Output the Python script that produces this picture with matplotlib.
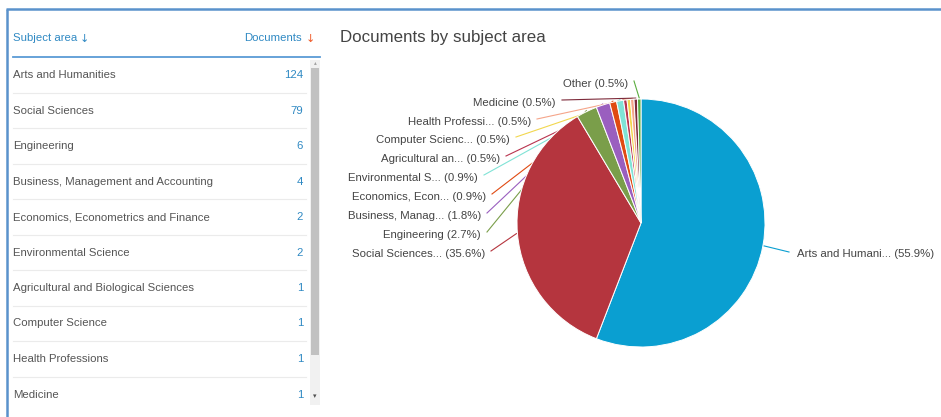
import numpy as np
import matplotlib
matplotlib.use('Agg')
import matplotlib.pyplot as plt

plt.rcParams['font.family'] = ['Liberation Sans', 'DejaVu Sans']

# ── data ────────────────────────────────────────────────────────────
subjects = ['Arts and Humanities', 'Social Sciences', 'Engineering',
            'Business, Management and Accounting',
            'Economics, Econometrics and Finance', 'Environmental Science',
            'Agricultural and Biological Sciences', 'Computer Science',
            'Health Professions', 'Medicine']
documents = [124, 79, 6, 4, 2, 2, 1, 1, 1, 1]
other_docs = 1

pie_labels = ['Arts and Humani...', 'Social Sciences...', 'Engineering',
              'Business, Manag...', 'Economics, Econ...', 'Environmental S...',
              'Agricultural an...', 'Computer Scienc...', 'Health Professi...',
              'Medicine', 'Other']
pie_values = documents + [other_docs]

# ── palette ─────────────────────────────────────────────────────────
BLUE_TXT = '#2f89c3'
GRAY_TXT = '#555555'
slice_colors = ['#0a9fd1', '#b5353e', '#7a9e4a', '#9a5fbf', '#e04a12',
                '#80e3d6', '#b8344f', '#f2d74e', '#f5a58a', '#7d2a3a',
                '#5aad3f']

FS_TAB = 8.2
FS_LAB = 8.2

W, H = 941, 417
fig = plt.figure(figsize=(W / 100, H / 100), dpi=100)
fig.patch.set_facecolor('white')

# pixel axes for the table (y down)
ax = fig.add_axes([0, 0, 1, 1])
ax.set_xlim(0, W)
ax.set_ylim(H, 0)
ax.axis('off')

# outer frame (top + left blue border)
ax.plot([6, W], [9, 9], color='#5a92cc', lw=1.8, solid_capstyle='butt')
ax.plot([7, 7], [9, H], color='#5a92cc', lw=1.8, solid_capstyle='butt')

# header
ax.text(13, 38, 'Subject area', ha='left', va='center',
        fontsize=FS_TAB, color=BLUE_TXT)
ax.text(84, 38.5, '\u2193', ha='center', va='center', family='DejaVu Sans',
        fontsize=8, color=BLUE_TXT)
ax.text(302, 38, 'Documents', ha='right', va='center',
        fontsize=FS_TAB, color=BLUE_TXT)
ax.text(310.5, 38.5, '\u2193', ha='center', va='center', family='DejaVu Sans',
        fontsize=8, color='#ef5a28')
ax.plot([13, 320], [57, 57], color='#5b9bd5', lw=1.3)

# rows
row_y0, row_h = 75, 35.5
for i, (name, n) in enumerate(zip(subjects, documents)):
    y = row_y0 + i * row_h
    ax.text(13, y, name, ha='left', va='center', fontsize=FS_TAB, color=GRAY_TXT)
    ax.text(303, y, str(n), ha='right', va='center', fontsize=FS_TAB,
            color=BLUE_TXT)
    if i < len(subjects) - 1:
        ax.plot([13, 306], [y + row_h / 2] * 2, color='#ebebeb', lw=0.8)

# scrollbar
ax.add_patch(plt.Rectangle((310, 60), 10, 345, fc='#f1f1f1', ec='none'))
ax.add_patch(plt.Rectangle((311, 68), 8.5, 287, fc='#c1c1c1', ec='none'))
ax.text(315, 63, '\u25b4', ha='center', va='center', fontsize=4, color='#a0a0a0')
ax.text(315, 397, '\u25be', ha='center', va='center', fontsize=5, color='#505050')

# title
ax.text(340, 37, 'Documents by subject area', ha='left', va='center',
        fontsize=12.2, color='#444444')

# ── pie (separate axes, y up) ───────────────────────────────────────
pa = fig.add_axes([0, 0, 1, 1])
CX, CY, R = 641, H - 223, 124
pa.pie(pie_values, colors=slice_colors, startangle=90, counterclock=False,
       center=(CX, CY), radius=R,
       wedgeprops=dict(edgecolor='white', linewidth=0.7, zorder=3))
pa.set_xlim(0, W)
pa.set_ylim(0, H)
pa.set_aspect('auto')
pa.axis('off')

total = sum(pie_values)
fracs = np.array(pie_values) / total
ends = 90 - 360 * np.cumsum(fracs)
starts = ends + 360 * fracs
mids = (starts + ends) / 2

# label anchors (pixel coords, y down): text end x, text y
lab_x = [797, 485, 481, 481, 486, 478, 500, 510, 531, 556, 628]
lab_y = [254, 254, 235, 216, 197, 178, 159, 140, 122, 103, 84]

for i, lbl in enumerate(pie_labels):
    txt = f'{lbl} ({fracs[i] * 100:.1f}%)'
    ty = H - lab_y[i]
    a = np.deg2rad(mids[i])
    px, py = CX + (R + 1) * np.cos(a), CY + (R + 1) * np.sin(a)
    if i == 0:
        pa.text(lab_x[i], ty, txt, ha='left', va='center', fontsize=FS_LAB,
                color='#444444')
        pa.plot([lab_x[i] - 8, px], [ty + 2, py], color=slice_colors[i],
                lw=0.8, zorder=1)
    else:
        pa.text(lab_x[i], ty, txt, ha='right', va='center', fontsize=FS_LAB,
                color='#444444')
        pa.plot([lab_x[i] + 6, px], [ty + 3, py], color=slice_colors[i],
                lw=0.8, zorder=1)

fig.savefig('out.png', dpi=100, facecolor='white')
